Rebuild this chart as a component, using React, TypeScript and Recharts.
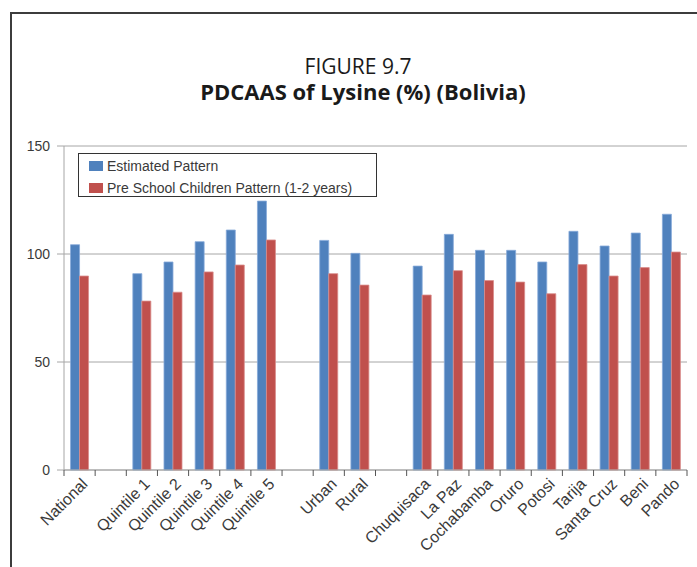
import React from 'react';
import { BarChart, Bar, XAxis, YAxis, CartesianGrid } from 'recharts';

// PDCAAS of Lysine (%) – Bolivia, by group
const categories = [
  'National', '', 'Quintile 1', 'Quintile 2', 'Quintile 3', 'Quintile 4', 'Quintile 5', '',
  'Urban', 'Rural', '', 'Chuquisaca', 'La Paz', 'Cochabamba', 'Oruro', 'Potosi', 'Tarija',
  'Santa Cruz', 'Beni', 'Pando',
];
const estimatedPattern = [
  104.3, null, 90.9, 96.3, 105.7, 111.1, 124.5, null,
  106.3, 100.3, null, 94.4, 109.1, 101.7, 101.7, 96.3, 110.5,
  103.7, 109.7, 118.4,
];
const preSchoolPattern = [
  89.8, null, 78.2, 82.3, 91.7, 94.9, 106.5, null,
  90.9, 85.6, null, 81.0, 92.3, 87.7, 87.0, 81.6, 95.1,
  89.8, 93.7, 100.9,
];
const yTicks = [0, 50, 100, 150];

const data = categories.map((c, i) => ({
  key: `c${i}`,
  estimated: estimatedPattern[i],
  preschool: preSchoolPattern[i],
}));

const W = 697;
const H = 567;
const MARGIN = { top: 146, right: 10, left: 0, bottom: 7 };
const Y_AXIS_W = 64;
const STEP = (W - MARGIN.left - MARGIN.right - Y_AXIS_W) / categories.length;

const BLUE = '#4F81BD';
const RED = '#C0504D';
const TEXT = '#3a3a3a';
const FONT = '"Liberation Sans", Arial, sans-serif';

const XTick = (props: any) => {
  const { x, y, index } = props;
  const label = categories[index];
  const half = STEP / 2;
  const top = y - 6;
  const lx = x + 9;
  const ly = y + 9;
  return (
    <g>
      <line x1={x - half} x2={x - half} y1={top} y2={top + 6} stroke="#555" strokeWidth={1} />
      {index === categories.length - 1 && (
        <line x1={x + half} x2={x + half} y1={top} y2={top + 6} stroke="#555" strokeWidth={1} />
      )}
      {label && (
        <text
          x={lx}
          y={ly}
          textAnchor="end"
          fontSize={16}
          fill={TEXT}
          fontFamily={FONT}
          transform={`rotate(-45, ${lx}, ${ly})`}
        >
          {label}
        </text>
      )}
    </g>
  );
};

export default function App() {
  return (
    <div style={{ position: 'absolute', left: 0, top: 0, width: W, height: H, background: '#fff', fontFamily: FONT }}>
      {/* frame */}
      <div
        style={{
          position: 'absolute',
          left: 10,
          top: 12,
          width: W - 10,
          height: H - 12,
          borderTop: '2px solid #3c3c3c',
          borderLeft: '2px solid #3c3c3c',
          boxSizing: 'border-box',
        }}
      />

      <svg width={W} height={120} style={{ position: 'absolute', left: 0, top: 0 }}>
        <text x={358} y={74} textAnchor="middle" fontSize={21} fill="#1a1a1a" fontFamily='"Open Sans", sans-serif'>
          FIGURE 9.7
        </text>
        <text x={363} y={100} textAnchor="middle" fontSize={22} fontWeight="bold" fill="#1a1a1a" fontFamily='"Open Sans", sans-serif'>
          PDCAAS of Lysine (%) (Bolivia)
        </text>
      </svg>

      <div style={{ position: 'absolute', left: 0, top: 0 }}>
        <BarChart
          width={W}
          height={H}
          data={data}
          margin={MARGIN}
          barCategoryGap="21%"
          barGap={0}
        >
          <CartesianGrid vertical={false} stroke="#a6a6a6" />
          <XAxis
            dataKey="key"
            height={90}
            interval={0}
            axisLine={{ stroke: '#a6a6a6' }}
            tickLine={false}
            tickSize={6}
            tickMargin={0}
            tick={<XTick />}
          />
          <YAxis
            width={Y_AXIS_W}
            domain={[0, 150]}
            ticks={yTicks}
            interval={0}
            axisLine={{ stroke: '#a6a6a6' }}
            tickLine={{ stroke: '#a6a6a6' }}
            tickSize={7}
            tickMargin={7}
            tick={{ fill: TEXT, fontSize: 14, fontFamily: FONT }}
          />
          <Bar dataKey="estimated" fill={BLUE} stroke="#86a9d9" strokeWidth={0.8} isAnimationActive={false} />
          <Bar dataKey="preschool" fill={RED} stroke="#d98d8b" strokeWidth={0.8} isAnimationActive={false} />
        </BarChart>
      </div>

      {/* legend */}
      <div
        style={{
          position: 'absolute',
          left: 78,
          top: 153,
          width: 299,
          height: 44,
          border: '1px solid #333',
          boxSizing: 'border-box',
          fontSize: 14,
          color: TEXT,
        }}
      >
        {[
          { name: 'Estimated Pattern', color: BLUE },
          { name: 'Pre School Children Pattern (1-2 years)', color: RED },
        ].map((item, i) => (
          <div
            key={item.name}
            style={{ position: 'absolute', left: 10, top: 3 + i * 22, height: 18, display: 'flex', alignItems: 'center' }}
          >
            <span style={{ display: 'inline-block', width: 14, height: 10, background: item.color, marginRight: 4 }} />
            <span>{item.name}</span>
          </div>
        ))}
      </div>
    </div>
  );
}
